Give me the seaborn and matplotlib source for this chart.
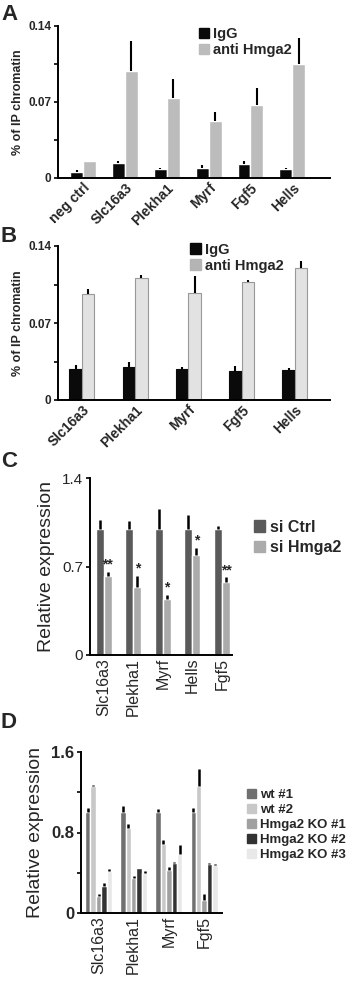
import pandas as pd
import matplotlib
matplotlib.use('Agg')
import matplotlib.pyplot as plt
import seaborn as sns
from matplotlib.patches import Patch

sns.set_style('white')
plt.rcParams['font.family'] = ['Liberation Sans', 'DejaVu Sans']

# Panel A - ChIP
a_genes = ['neg ctrl', 'Slc16a3', 'Plekha1', 'Myrf', 'Fgf5', 'Hells']
a_igg = [0.0055, 0.014, 0.008, 0.009, 0.013, 0.008]
a_igg_err = [0.007, 0.016, 0.009, 0.012, 0.016, 0.009]
a_anti = [0.0157, 0.0986, 0.0737, 0.0525, 0.067, 0.105]
a_anti_err = [0.016, 0.126, 0.091, 0.061, 0.083, 0.129]

# Panel B - ChIP
b_genes = ['Slc16a3', 'Plekha1', 'Myrf', 'Fgf5', 'Hells']
b_igg = [0.0278, 0.0296, 0.0284, 0.0263, 0.0269]
b_igg_err = [0.032, 0.0344, 0.030, 0.0308, 0.0293]
b_anti = [0.0966, 0.1107, 0.0975, 0.1074, 0.1197]
b_anti_err = [0.1008, 0.1137, 0.113, 0.109, 0.126]

# Panel C - knockdown
c_genes = ['Slc16a3', 'Plekha1', 'Myrf', 'Hells', 'Fgf5']
c_ctrl = [1.0, 1.0, 1.0, 1.0, 1.0]
c_ctrl_err = [1.064, 1.062, 1.157, 1.11, 1.022]
c_si = [0.626, 0.5415, 0.444, 0.79, 0.578]
c_si_err = [0.655, 0.626, 0.475, 0.843, 0.613]
c_stars = ['**', '*', '*', '*', '**']

# Panel D - knockout
d_genes = ['Slc16a3', 'Plekha1', 'Myrf', 'Fgf5']
d_groups = ['wt #1', 'wt #2', 'Hmga2 KO #1', 'Hmga2 KO #2', 'Hmga2 KO #3']
d_vals = {
    'wt #1': [1.0, 1.0, 1.0, 1.0],
    'wt #2': [1.258, 0.84, 0.684, 1.26],
    'Hmga2 KO #1': [0.17, 0.35, 0.424, 0.126],
    'Hmga2 KO #2': [0.265, 0.447, 0.497, 0.483],
    'Hmga2 KO #3': [0.417, 0.40, 0.59, 0.474],
}
d_errs = {
    'wt #1': [1.047, 1.06, 1.03, 1.04],
    'wt #2': [1.275, 0.886, 0.73, 1.43],
    'Hmga2 KO #1': [0.185, 0.365, 0.46, 0.185],
    'Hmga2 KO #2': [0.30, 0.452, 0.51, 0.497],
    'Hmga2 KO #3': [0.44, 0.415, 0.68, 0.483],
}

W, H = 346, 992
fig = plt.figure(figsize=(W / 100, H / 100), dpi=100)


def make_ax(left, right, top, bottom):
    return fig.add_axes([left / W, 1 - bottom / H, (right - left) / W, (bottom - top) / H])


def long_df(genes, series):
    rows = []
    for name, vals in series.items():
        for g, v in zip(genes, vals):
            rows.append({'gene': g, 'group': name, 'value': v})
    return pd.DataFrame(rows)


def draw_err(ax, tops_list, lw=1.5):
    for cont, tops in zip(ax.containers, tops_list):
        for bar, top in zip(cont, tops):
            x = bar.get_x() + bar.get_width() / 2
            ax.vlines(x, bar.get_height(), top, color='black', lw=lw, zorder=3)


def style_ax(ax):
    sns.despine(ax=ax)
    for s in ['left', 'bottom']:
        ax.spines[s].set_color('black')
        ax.spines[s].set_linewidth(1.4)
    ax.tick_params(axis='y', direction='out', length=3, width=1.2, color='black', left=True, pad=2)
    ax.tick_params(axis='x', length=0, pad=2)
    ax.set_xlabel('')


# ---------- A ----------
axA = make_ax(58, 330, 26, 178)
dfA = long_df(a_genes, {'IgG': a_igg, 'anti Hmga2': a_anti})
sns.barplot(data=dfA, x='gene', y='value', hue='group', order=a_genes,
            palette=['#0a0a0a', '#bcbcbc'], width=0.62, errorbar=None, ax=axA,
            saturation=1, legend=False)
draw_err(axA, [a_igg_err, a_anti_err])
axA.set_xlim(-0.6, 5.9)
axA.set_ylim(0, 0.14)
axA.set_yticks([0, 0.035, 0.07, 0.105, 0.14], ['0', '', '0.07', '', '0.14'],
               fontsize=8.5, fontweight='bold')
axA.set_xticks(range(len(a_genes)), a_genes, rotation=45, ha='right',
               rotation_mode='anchor', fontsize=10, fontweight='bold')
axA.set_ylabel('% of IP chromatin', fontsize=9, fontweight='bold', labelpad=3)
style_ax(axA)
axA.legend(handles=[Patch(color='#0a0a0a', label='IgG'), Patch(color='#bcbcbc', label='anti Hmga2')],
           loc='upper left', bbox_to_anchor=(0.49, 1.04), frameon=False, borderpad=0,
           handlelength=0.7, handleheight=0.7, handletextpad=0.3, labelspacing=0.15,
           prop={'size': 10.5, 'weight': 'bold'})

# ---------- B ----------
axB = make_ax(58, 330, 246, 400)
dfB = long_df(b_genes, {'IgG': b_igg, 'anti Hmga2': b_anti})
sns.barplot(data=dfB, x='gene', y='value', hue='group', order=b_genes,
            palette=['#0a0a0a', '#e2e2e2'], width=0.47, errorbar=None, ax=axB,
            saturation=1, legend=False, edgecolor='#999999', linewidth=0.8)
for bar in axB.containers[0]:
    bar.set_edgecolor('#0a0a0a')
draw_err(axB, [b_igg_err, b_anti_err])
axB.set_xlim(-0.45, 4.66)
axB.set_ylim(0, 0.14)
axB.set_yticks([0, 0.035, 0.07, 0.105, 0.14], ['0', '', '0.07', '', '0.14'],
               fontsize=8.5, fontweight='bold')
axB.set_xticks(range(len(b_genes)), b_genes, rotation=45, ha='right',
               rotation_mode='anchor', fontsize=10, fontweight='bold')
axB.set_ylabel('% of IP chromatin', fontsize=9, fontweight='bold', labelpad=3)
style_ax(axB)
axB.legend(handles=[Patch(color='#0a0a0a', label='IgG'), Patch(color='#b4b4b4', label='anti Hmga2')],
           loc='upper left', bbox_to_anchor=(0.46, 1.07), frameon=False, borderpad=0,
           handlelength=0.7, handleheight=0.7, handletextpad=0.3, labelspacing=0.15,
           prop={'size': 10.5, 'weight': 'bold'})

# ---------- C ----------
axC = make_ax(90, 232, 478, 655)
dfC = long_df(c_genes, {'si Ctrl': c_ctrl, 'si Hmga2': c_si})
sns.barplot(data=dfC, x='gene', y='value', hue='group', order=c_genes,
            palette=['#5a5a5a', '#ababab'], width=0.54, errorbar=None, ax=axC,
            saturation=1, legend=False)
draw_err(axC, [c_ctrl_err, c_si_err], lw=1.8)
for bar, top, s in zip(axC.containers[1], c_si_err, c_stars):
    axC.text(bar.get_x() + bar.get_width() / 2, top + 0.004, s, ha='center', va='bottom',
             fontsize=10, fontweight='bold')
axC.set_xlim(-0.47, 4.34)
axC.set_ylim(0, 1.4)
axC.set_yticks([0, 0.7, 1.4], ['0', '0.7', '1.4'], fontsize=11)
axC.set_xticks(range(len(c_genes)), c_genes, rotation=90, fontsize=11.5)
axC.set_ylabel('Relative expression', fontsize=14, labelpad=5)
style_ax(axC)
axC.legend(handles=[Patch(color='#5a5a5a', label='si Ctrl'), Patch(color='#ababab', label='si Hmga2')],
           loc='upper left', bbox_to_anchor=(1.1, 0.81), frameon=False, borderpad=0,
           handlelength=0.7, handleheight=0.7, handletextpad=0.3, labelspacing=0.35,
           prop={'size': 11.5, 'weight': 'bold'})

# ---------- D ----------
axD = make_ax(81, 222, 752, 913)
d_colors = ['#707070', '#c8c8c8', '#a0a0a0', '#323232', '#e8e8e8']
dfD = long_df(d_genes, d_vals)
sns.barplot(data=dfD, x='gene', y='value', hue='group', order=d_genes, hue_order=d_groups,
            palette=d_colors, width=0.77, errorbar=None, ax=axD,
            saturation=1, legend=False)
draw_err(axD, [d_errs[g] for g in d_groups], lw=1.8)
axD.set_xlim(-0.5, 3.51)
axD.set_ylim(0, 1.6)
axD.set_yticks([0, 0.4, 0.8, 1.2, 1.6], ['0', '', '0.8', '', '1.6'], fontsize=12, fontweight='bold')
axD.set_xticks(range(len(d_genes)), d_genes, rotation=90, fontsize=11.5)
axD.set_ylabel('Relative expression', fontsize=14, labelpad=5)
style_ax(axD)
axD.legend(handles=[Patch(color=c, label=g) for c, g in zip(d_colors, d_groups)],
           loc='upper left', bbox_to_anchor=(1.13, 0.81), frameon=False, borderpad=0,
           handlelength=0.7, handleheight=0.7, handletextpad=0.3, labelspacing=0.2,
           prop={'size': 9.5, 'weight': 'bold'})

# panel letters
for letter, y in [('A', 20), ('B', 242), ('C', 467), ('D', 728)]:
    fig.text(1 / W, 1 - y / H, letter, fontsize=16, fontweight='bold', ha='left', va='baseline')

fig.savefig('out.png', dpi=100)
